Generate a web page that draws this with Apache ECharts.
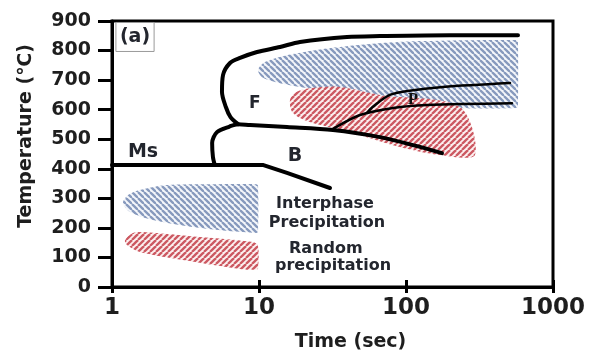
<!DOCTYPE html>
<html>
<head>
<meta charset="utf-8">
<script src="https://cdn.jsdelivr.net/npm/echarts@6.0.0/dist/echarts.min.js"></script>
<style>
  html, body { margin: 0; padding: 0; background: #fff; }
  #chart { width: 591px; height: 358px; }
</style>
</head>
<body>
<div id="chart"></div>
<script>
// axis ranges
const xTickValues = [1, 10, 100, 1000];
const yMin = 0, yMax = 900, yStep = 100;

// transformation curves [time (s), temperature (C)]
const msLine = [[1, 413], [10.6, 413], [15.5, 386], [30.4, 335]];
const bainiteCurve = [[5.0, 413], [4.86, 440], [4.8, 487], [5.18, 524], [6.3, 543], [7.2, 551], [8.7, 548], [15.5, 541], [31.9, 531], [66.5, 507], [111.6, 480], [175.7, 453]];
const ferriteCurve = [[7.2, 551], [6.4, 575], [5.95, 609], [5.6, 660], [5.69, 717], [6.35, 758], [7.43, 775], [9.7, 795], [13.9, 812], [19.0, 829], [39.7, 846], [66.5, 849], [199, 852], [578, 852]];
const pearliteLower = [[31.9, 535], [48.7, 582], [81.6, 606], [139, 616], [526, 622]];
const pearliteUpper = [[54.3, 589], [59.3, 609], [77.6, 650], [111.5, 666], [178.6, 677], [510, 690]];

// hatched regions
const interphaseZone = [[9.85, 734], [10.98, 761], [14.6, 781], [27.3, 805], [56.9, 822], [124.5, 832], [570, 836], [578, 830], [578, 612], [570, 606], [233, 606], [90.9, 633], [35.5, 660], [19.0, 677], [12.85, 694], [10.5, 710]];
const randomZone = [[16.25, 633], [17.9, 660], [22.9, 673], [35.5, 677], [66.5, 650], [233, 609], [294.6, 447], [170, 447], [90.9, 474], [41.6, 524], [22.2, 558], [17.0, 589]];
const interphaseKey = [[1.188, 284], [1.285, 311], [1.55, 328], [2.37, 345], [4.64, 348], [9.6, 348], [9.85, 343], [9.85, 188], [9.6, 183], [3.97, 200], [1.90, 227], [1.326, 254]];
const randomKey = [[1.226, 159], [1.389, 183], [1.625, 186], [3.97, 169], [9.1, 152], [9.85, 139], [9.85, 62], [9.5, 58], [7.43, 61], [3.04, 91], [1.55, 118], [1.265, 142]];

// text annotations
const labels = [
  { name: '(a)', value: [1.434, 846], size: 19, box: true },
  { name: 'Ms', value: [1.625, 457], size: 19 },
  { name: 'F', value: [9.36, 622], size: 17 },
  { name: 'B', value: [17.6, 443], size: 19 },
  { name: 'P', value: [111.6, 633], size: 17, serif: true },
  { name: 'Interphase', value: [28.1, 281], size: 16 },
  { name: 'Precipitation', value: [29.0, 217], size: 16 },
  { name: 'Random', value: [28.5, 129], size: 16 },
  { name: 'precipitation', value: [31.9, 71], size: 16 }
];

const FONT = 'DejaVu Sans';

function hatch(color, dir, bg) {
  const s = 6;
  const c = document.createElement('canvas');
  c.width = s; c.height = s;
  const ctx = c.getContext('2d');
  if (bg) { ctx.fillStyle = bg; ctx.fillRect(0, 0, s, s); }
  ctx.strokeStyle = color;
  ctx.lineWidth = 2.3;
  for (const k of [-1, 0, 1]) {
    ctx.beginPath();
    if (dir === 'down') { ctx.moveTo(k * s, 0); ctx.lineTo(k * s + s, s); }
    else { ctx.moveTo(k * s, s); ctx.lineTo(k * s + s, 0); }
    ctx.stroke();
  }
  return { image: c, repeat: 'repeat' };
}

const blueHatch = hatch('#8699bd', 'down', '#f4f6fa');
const redHatch = hatch('#cc5861', 'up', '#fcf0f0');

function zone(pts, fill, z) {
  return {
    type: 'custom',
    silent: true,
    z: z,
    data: pts,
    encode: { x: 0, y: 1 },
    renderItem: (params, api) => {
      if (params.dataIndex !== 0) return null;
      return {
        type: 'polygon',
        shape: { points: pts.map((p) => api.coord(p)), smooth: 0.3 },
        style: { fill: fill, stroke: null }
      };
    }
  };
}

function curve(pts, width, smooth) {
  return {
    type: 'line',
    data: pts,
    showSymbol: false,
    silent: true,
    z: 5,
    smooth: smooth,
    lineStyle: { color: '#000', width: width, cap: 'round', join: 'round' }
  };
}

const chart = echarts.init(document.getElementById('chart'));

chart.setOption({
  animation: false,
  grid: {
    left: 112, right: 38, top: 21, bottom: 71,
    show: true, borderColor: '#000', borderWidth: 3, backgroundColor: 'transparent'
  },
  xAxis: [
    {
      type: 'log', logBase: 10, min: xTickValues[0], max: xTickValues[xTickValues.length - 1],
      name: 'Time (sec)', nameLocation: 'middle', nameGap: 46,
      nameTextStyle: { fontFamily: FONT, fontWeight: 'bold', fontSize: 19, color: '#1e1e1e', padding: [0, 0, 0, 36] },
      axisLine: { lineStyle: { color: '#000', width: 3 } },
      axisTick: { length: 6, lineStyle: { color: '#000', width: 3 } },
      axisLabel: {
        fontFamily: FONT, fontWeight: 'bold', fontSize: 23, color: '#1e1e1e', margin: 10,
        formatter: (v) => String(Math.round(v))
      },
      minorTick: { show: false },
      splitLine: { show: false }
    },
    {
      type: 'log', logBase: 10, min: xTickValues[0], max: xTickValues[xTickValues.length - 1],
      position: 'bottom',
      axisLine: { show: false },
      axisTick: { inside: true, length: 7, lineStyle: { color: '#000', width: 3 } },
      axisLabel: { show: false },
      splitLine: { show: false }
    }
  ],
  yAxis: {
    type: 'value', min: yMin, max: yMax, interval: yStep,
    axisLine: { show: true, lineStyle: { color: '#000', width: 3 } },
    axisTick: { show: true, length: 14, lineStyle: { color: '#000', width: 3 } },
    axisLabel: { fontFamily: FONT, fontWeight: 'bold', fontSize: 19, color: '#1e1e1e', margin: 21 },
    splitLine: { show: false },
    name: 'Temperature (℃)', nameLocation: 'middle', nameGap: 76, nameRotate: 90,
    nameTextStyle: { fontFamily: FONT, fontWeight: 'bold', fontSize: 19, color: '#1e1e1e', padding: [0, 0, 0, 36] }
  },
  series: [
    zone(interphaseZone, blueHatch, 1),
    zone(randomZone, redHatch, 2),
    zone(interphaseKey, blueHatch, 1),
    zone(randomKey, redHatch, 2),
    curve(msLine, 4, false),
    curve(bainiteCurve, 4, 0.3),
    curve(ferriteCurve, 4, 0.3),
    curve(pearliteLower, 2.5, 0.3),
    curve(pearliteUpper, 2.5, 0.3),
    {
      type: 'scatter',
      silent: true,
      z: 10,
      symbolSize: 1,
      itemStyle: { color: 'transparent', opacity: 1 },
      data: labels.map((l) => ({
        name: l.name,
        value: l.value,
        label: {
          show: true,
          position: 'inside',
          formatter: '{b}',
          fontFamily: l.serif ? 'Liberation Serif' : FONT,
          fontWeight: 'bold',
          fontSize: l.size,
          color: l.serif ? '#111' : '#23262e',
          borderColor: l.box ? '#999' : undefined,
          borderWidth: l.box ? 1 : 0,
          padding: l.box ? [5, 4] : 0
        }
      }))
    }
  ]
});
</script>
</body>
</html>
